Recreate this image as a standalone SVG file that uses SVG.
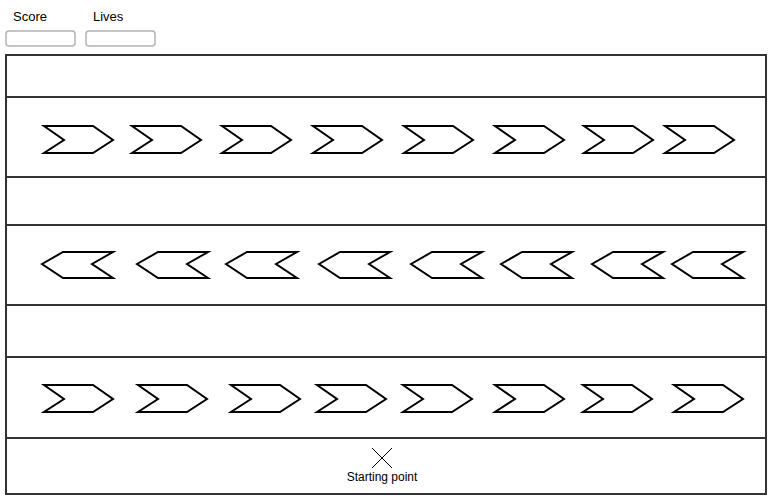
<svg xmlns="http://www.w3.org/2000/svg" width="772" height="499" viewBox="0 0 772 499">
<style>
.lbl{font-family:"Liberation Sans",Arial,sans-serif;font-size:13px;fill:#000}
.small{font-family:"Liberation Sans",Arial,sans-serif;font-size:12px;fill:#000;text-anchor:middle}
.box{fill:#fff;stroke:#b3b3b3;stroke-width:1.5}
.lane{fill:none;stroke:#333;stroke-width:2}
.chev{fill:#fff;stroke:#000;stroke-width:2;stroke-linejoin:miter}
</style>
<defs>
<path id="r" d="M0,0 L49,0 L69,14 L49,27 L0,27 L20,14 Z" class="chev"/>
<path id="l" d="M0,12 L21,0 L71,0 L50,12 L71,26 L21,26 Z" class="chev"/>
</defs>
<rect width="772" height="499" fill="#fff"/>
<g id="score">
<text class="lbl" x="13" y="21">Score</text>
<rect class="box" x="6" y="31" width="69" height="15" rx="3"/>
</g>
<g id="lives">
<text class="lbl" x="93" y="21">Lives</text>
<rect class="box" x="86" y="31" width="69" height="15" rx="3"/>
</g>
<g id="board">
<rect class="lane" x="6" y="55" width="760" height="439"/>
<line class="lane" x1="6" y1="97" x2="766" y2="97"/>
<line class="lane" x1="6" y1="177" x2="766" y2="177"/>
<line class="lane" x1="6" y1="225" x2="766" y2="225"/>
<line class="lane" x1="6" y1="305" x2="766" y2="305"/>
<line class="lane" x1="6" y1="357" x2="766" y2="357"/>
<line class="lane" x1="6" y1="438" x2="766" y2="438"/>
</g>
<g id="row1">
<use href="#r" x="44" y="126"/>
<use href="#r" x="132" y="126"/>
<use href="#r" x="222" y="126"/>
<use href="#r" x="313" y="126"/>
<use href="#r" x="404" y="126"/>
<use href="#r" x="495" y="126"/>
<use href="#r" x="584" y="126"/>
<use href="#r" x="665" y="126"/>
</g>
<g id="row2">
<use href="#l" x="42" y="252"/>
<use href="#l" x="137" y="252"/>
<use href="#l" x="226" y="252"/>
<use href="#l" x="319" y="252"/>
<use href="#l" x="411" y="252"/>
<use href="#l" x="501" y="252"/>
<use href="#l" x="592" y="252"/>
<use href="#l" x="672" y="252"/>
</g>
<g id="row3">
<use href="#r" x="44" y="385"/>
<use href="#r" x="138" y="385"/>
<use href="#r" x="231" y="385"/>
<use href="#r" x="317" y="385"/>
<use href="#r" x="403" y="385"/>
<use href="#r" x="495" y="385"/>
<use href="#r" x="583" y="385"/>
<use href="#r" x="674" y="385"/>
</g>
<g id="start">
<path d="M372,448 L392,468 M392,448 L372,468" stroke="#000" stroke-width="1" fill="none"/>
<text class="small" x="382" y="481">Starting point</text>
</g>
</svg>
